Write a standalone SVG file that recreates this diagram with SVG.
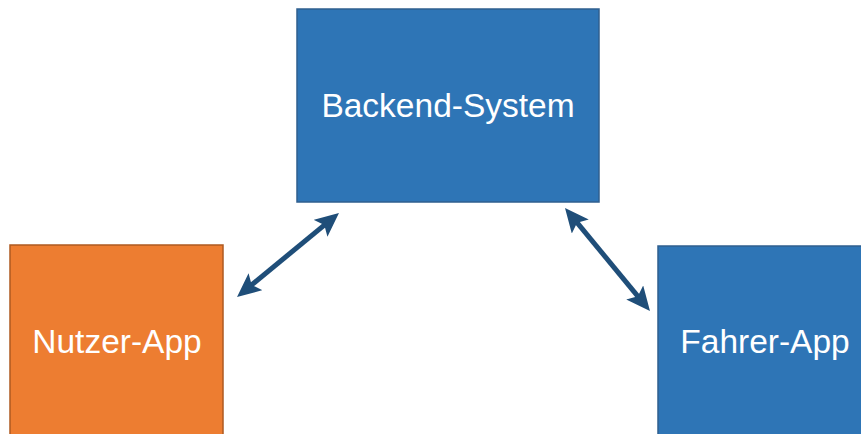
<svg xmlns="http://www.w3.org/2000/svg" width="861" height="434" viewBox="0 0 861 434">
<style>
.blue{fill:#2E75B6;stroke:#2F5F8F;stroke-width:1.5}
.orange{fill:#ED7D31;stroke:#AE5A21;stroke-width:1.5}
.lbl{font-family:"Liberation Sans",Arial,sans-serif;font-size:33.5px;fill:#FFFFFF;text-anchor:middle}
.conn{stroke:#1F4E79;stroke-width:5;fill:none;marker-start:url(#ah);marker-end:url(#ah)}
</style>
<defs>
<marker id="ah" markerUnits="userSpaceOnUse" markerWidth="24" markerHeight="22" viewBox="0 0 24 22" refX="16" refY="11" orient="auto-start-reverse">
<path d="M0,0 L24,11 L0,22 L5,11 Z" fill="#1F4E79"/>
</marker>
</defs>
<rect width="861" height="434" fill="#FFFFFF"/>
<g id="backend">
<rect class="blue" x="297" y="9" width="302" height="193"/>
<text class="lbl" x="448" y="117">Backend-System</text>
</g>
<g id="nutzer">
<rect class="orange" x="10" y="245" width="213" height="200"/>
<text class="lbl" x="117" y="353">Nutzer-App</text>
</g>
<g id="fahrer">
<rect class="blue" x="658" y="246" width="214" height="200"/>
<text class="lbl" x="765" y="353">Fahrer-App</text>
</g>
<g id="connectors">
<line class="conn" x1="243.2" y1="291.9" x2="332.8" y2="218.1"/>
<line class="conn" x1="570.1" y1="214.2" x2="644.9" y2="304.8"/>
</g>
</svg>
